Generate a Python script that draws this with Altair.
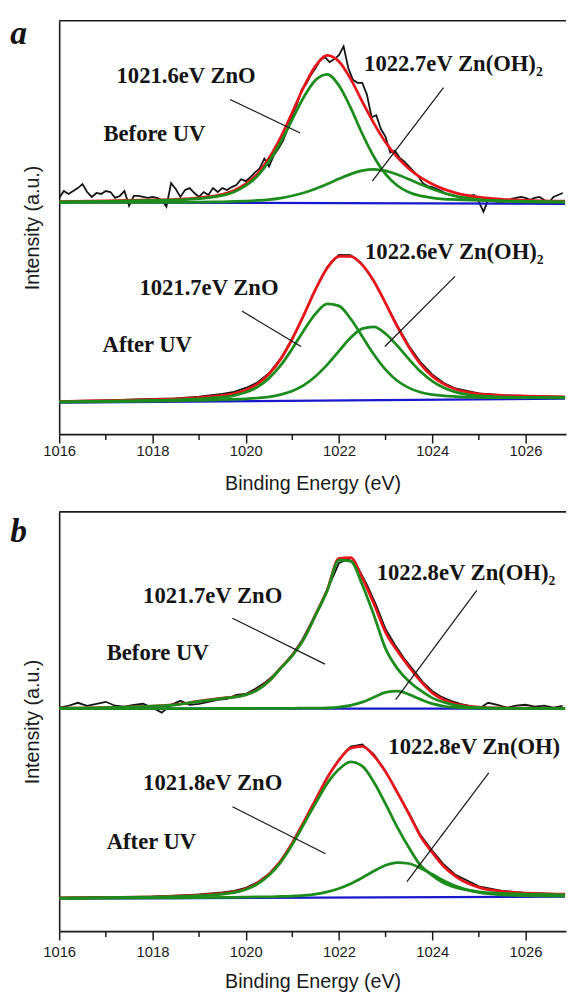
import altair as alt
import pandas as pd

# ---------------- data ----------------
# common energy grid for the fitted curves (eV)
GRID_X = [1016.0, 1017.0, 1018.0, 1018.5, 1019.0, 1019.5, 1019.75, 1020.0, 1020.25, 1020.5,
          1020.75, 1021.0, 1021.25, 1021.5, 1021.75, 1022.0, 1022.25, 1022.5, 1022.75, 1023.0,
          1023.25, 1023.5, 1023.75, 1024.0, 1024.25, 1024.5, 1025.0, 1025.5, 1026.0, 1026.85]
BG_X = [1016.0, 1026.85]

# ---- panel a, Before UV ----
A_BEFORE_ZNO = [236.0, 236.5, 237.4, 238.0, 239.3, 242.5, 246.1, 252.4, 262.1, 277.2,
                296.7, 319.8, 342.8, 359.8, 365.6, 354.2, 331.8, 305.2, 281.8, 264.1,
                252.6, 245.7, 242.0, 240.1, 238.9, 238.3, 237.4, 236.9, 236.5, 236.0]
A_BEFORE_ZNOH = [235.3, 235.4, 235.5, 235.6, 235.8, 236.1, 236.4, 236.8, 237.4, 238.3,
                 239.9, 242.2, 245.3, 249.4, 254.2, 259.4, 264.2, 267.7, 269.0, 267.4,
                 263.8, 259.0, 253.8, 249.0, 245.0, 241.9, 238.3, 236.7, 236.1, 235.7]
A_BEFORE_FIT = [236.3, 236.9, 237.9, 238.6, 240.1, 243.6, 247.5, 254.2, 264.5, 280.5,
                301.6, 327.0, 353.1, 374.2, 384.8, 378.6, 361.0, 337.9, 315.8, 296.5,
                281.4, 269.7, 260.8, 254.1, 248.9, 245.2, 240.7, 238.6, 237.6, 236.7]
A_BEFORE_BG = [235.5, 234.0]
A_BEFORE_RAW_X = [
    1016.0, 1016.1, 1016.2, 1016.3, 1016.4, 1016.5, 1016.6, 1016.7, 1016.8, 1016.9,
    1017.0, 1017.1, 1017.2, 1017.3, 1017.4, 1017.5, 1017.6, 1017.7, 1017.8, 1017.9,
    1018.0, 1018.1, 1018.2, 1018.3, 1018.4, 1018.5, 1018.6, 1018.7, 1018.8, 1018.9,
    1019.0, 1019.1, 1019.2, 1019.3, 1019.4, 1019.5, 1019.6, 1019.7, 1019.8, 1019.9,
    1020.0, 1020.1, 1020.2, 1020.3, 1020.4, 1020.5, 1020.6, 1020.7, 1020.8, 1020.9,
    1021.0, 1021.1, 1021.2, 1021.3, 1021.4, 1021.5, 1021.6, 1021.7, 1021.8, 1021.9,
    1022.0, 1022.1, 1022.2, 1022.3, 1022.4, 1022.5, 1022.6, 1022.7, 1022.8, 1022.9,
    1023.0, 1023.1, 1023.2, 1023.3, 1023.4, 1023.5, 1023.6, 1023.7, 1023.8, 1023.9,
    1024.0, 1024.1, 1024.2, 1024.3, 1024.4, 1024.5, 1024.6, 1024.7, 1024.8, 1024.9,
    1025.0, 1025.1, 1025.2, 1025.3, 1025.4, 1025.5, 1025.6, 1025.7, 1025.8, 1025.9,
    1026.0, 1026.1, 1026.2, 1026.3, 1026.4, 1026.5, 1026.6, 1026.7, 1026.8]
A_BEFORE_RAW = [
    240, 247, 244, 247, 250, 254, 246, 241, 245, 244,
    247, 246, 240, 242, 247, 232, 242, 242, 241, 240,
    241, 240, 238, 231, 255, 249, 241, 248, 250, 245,
    241, 246, 243, 250, 246, 250, 248, 251, 253, 259,
    257, 261, 266, 270, 280, 272, 283, 290, 298, 310,
    324, 335, 350, 356, 365, 372, 380, 383, 378, 381,
    385, 394, 372, 360, 357, 357, 345, 322, 324, 310,
    302, 286, 288, 281, 277, 272, 267, 262, 255, 252,
    251, 249, 247, 244, 243, 242, 240, 240, 242, 243,
    236, 226, 238, 237, 236, 236, 237, 239, 240, 241,
    240, 238, 240, 241, 238, 235, 241, 243, 245]

# ---- panel a, After UV ----
A_AFTER_ZNO = [32.7, 33.4, 34.2, 34.8, 35.8, 37.6, 39.2, 42.5, 47.8, 56.9,
               69.8, 86.9, 105.6, 122.5, 132.4, 130.3, 117.2, 99.2, 80.9, 65.5,
               54.2, 47.0, 42.5, 40.1, 38.9, 38.2, 37.4, 37.1, 37.0, 36.9]
A_AFTER_ZNOH = [32.4, 33.0, 33.5, 33.9, 34.4, 35.0, 35.4, 35.9, 36.7, 37.9,
                40.2, 43.9, 49.8, 58.8, 70.6, 84.4, 97.8, 107.2, 109.0, 102.0,
                89.9, 76.2, 63.5, 53.8, 47.0, 42.6, 38.8, 37.7, 37.3, 37.0]
A_AFTER_FIT = [33.1, 34.0, 35.0, 35.8, 37.1, 39.3, 41.2, 44.9, 50.9, 61.1,
               76.2, 96.9, 121.5, 147.3, 168.9, 180.5, 180.7, 172.0, 155.4, 132.9,
               109.4, 88.4, 71.1, 58.9, 50.8, 45.6, 40.9, 39.3, 38.6, 37.9]
A_AFTER_RAW = [33.6, 34.3, 35.8, 36.2, 38.1, 40.8, 43.0, 46.9, 52.4, 61.9,
               76.7, 96.9, 121.0, 147.3, 169.7, 182.0, 181.9, 172.5, 155.4, 133.4,
               110.4, 89.9, 73.1, 60.7, 52.0, 46.4, 41.4, 39.6, 38.8, 37.9]
A_AFTER_BG = [32.0, 36.0]

# ---- panel b, Before UV ----
B_BEFORE_ZNO = [226.5, 227.0, 228.5, 230.0, 233.5, 236.5, 237.8, 240.0, 245.0, 254.0,
                267.0, 280.0, 297.0, 321.0, 346.0, 377.0, 376.0, 352.0, 321.0, 287.0,
                267.0, 254.0, 244.5, 237.0, 232.5, 229.5, 227.2, 226.5, 226.3, 226.1]
B_BEFORE_ZNOH = [226.1, 226.1, 226.1, 226.1, 226.1, 226.2, 226.2, 226.2, 226.3, 226.3,
                 226.4, 226.4, 226.5, 226.6, 226.9, 227.7, 229.4, 232.7, 237.6, 242.5,
                 243.8, 240.6, 235.5, 231.1, 228.5, 227.3, 226.5, 226.3, 226.2, 226.1]
B_BEFORE_FIT = [226.6, 227.1, 228.6, 230.1, 233.6, 236.7, 238.0, 240.2, 245.3, 254.3,
                267.4, 280.4, 297.5, 321.6, 346.9, 378.7, 379.4, 358.7, 332.6, 303.5,
                284.8, 268.6, 254.0, 242.1, 235.0, 230.8, 227.7, 226.8, 226.5, 226.2]
B_BEFORE_BG = [226.0, 226.0]
B_BEFORE_RAW_X = [
    1016.0, 1016.2, 1016.4, 1016.6, 1016.8, 1017.0, 1017.2, 1017.4, 1017.6, 1017.8,
    1018.0, 1018.2, 1018.4, 1018.6, 1018.8, 1019.0, 1019.2, 1019.4, 1019.6, 1019.8,
    1020.0, 1020.2, 1020.4, 1020.6, 1020.8, 1021.0, 1021.2, 1021.4, 1021.6, 1021.8,
    1022.0, 1022.2, 1022.4, 1022.6, 1022.8, 1023.0, 1023.2, 1023.4, 1023.6, 1023.8,
    1024.0, 1024.2, 1024.4, 1024.6, 1024.8, 1025.0, 1025.2, 1025.4, 1025.6, 1025.8,
    1026.0, 1026.2, 1026.4, 1026.6, 1026.8]
B_BEFORE_RAW = [
    227, 229, 232, 229, 231, 233, 229, 228, 230, 231,
    227, 222, 230, 234, 230, 231, 233, 235, 236, 240,
    241, 246, 252, 260, 270, 281, 295, 313, 332, 352,
    374, 378, 370, 352, 331, 307, 291, 277, 265, 253,
    244, 238, 234, 231, 229, 226, 232, 230, 227, 229,
    230, 228, 229, 227, 229]

# ---- panel b, After UV ----
B_AFTER_ZNO = [33.5, 34.0, 34.6, 35.1, 36.0, 37.7, 39.2, 42.3, 47.8, 56.8,
               69.9, 87.9, 109.0, 130.0, 150.1, 164.4, 171.9, 167.6, 151.3, 129.2,
               105.7, 84.9, 66.8, 56.7, 48.9, 44.4, 39.9, 38.4, 37.5, 36.9]
B_AFTER_ZNOH = [33.2, 33.4, 33.7, 33.9, 34.1, 34.3, 34.3, 34.5, 34.7, 34.8,
                35.2, 35.6, 36.3, 37.6, 39.9, 43.3, 48.2, 54.3, 61.0, 66.9,
                69.7, 68.7, 64.0, 57.8, 51.3, 45.9, 39.3, 36.8, 36.0, 35.6]
B_AFTER_FIT = [33.7, 34.2, 34.9, 35.5, 36.5, 38.3, 39.8, 43.0, 48.7, 57.8,
               71.2, 89.6, 111.3, 133.6, 155.9, 173.6, 185.9, 187.7, 178.0, 161.8,
               141.0, 119.2, 96.4, 80.0, 65.7, 55.7, 44.5, 40.4, 38.6, 37.5]
B_AFTER_RAW = [34.0, 34.7, 35.1, 36.1, 37.3, 39.3, 41.0, 44.0, 49.5, 58.3,
               71.5, 89.8, 111.3, 133.6, 156.2, 174.4, 187.4, 189.7, 179.5, 162.6,
               141.5, 120.0, 97.6, 81.8, 67.7, 57.2, 45.5, 41.0, 38.9, 37.7]
B_AFTER_BG = [33.0, 35.0]

# ---- annotations ----
A_TEXT = ["1021.6eV ZnO", "1022.7eV Zn(OH)\u2082", "Before UV",
          "1021.7eV ZnO", "1022.6eV Zn(OH)\u2082", "After UV"]
A_TEXT_X = [1017.23, 1022.54, 1016.95, 1017.72, 1022.56, 1016.93]
A_TEXT_Y = [356.3, 369.0, 298.0, 141.3, 178.0, 83.0]
A_LEAD_X1 = [1019.665, 1024.242, 1019.919, 1024.489]
A_LEAD_Y1 = [340.0, 352.0, 125.0, 160.3]
A_LEAD_X2 = [1021.169, 1022.716, 1021.184, 1022.985]
A_LEAD_Y2 = [306.0, 257.0, 89.0, 89.0]

B_TEXT = ["1021.7eV ZnO", "1022.8eV Zn(OH)\u2082", "Before UV",
          "1021.8eV ZnO", "1022.8eV Zn(OH)\u2082", "After UV"]
B_TEXT_X = [1017.80, 1022.81, 1017.02, 1017.80, 1023.06, 1017.02]
B_TEXT_Y = [333.0, 357.0, 275.0, 143.0, 179.7, 83.0]
B_LEAD_X1 = [1019.716, 1024.956, 1019.716, 1025.213]
B_LEAD_Y1 = [318.0, 346.3, 126.3, 160.7]
B_LEAD_X2 = [1021.699, 1023.217, 1021.713, 1023.459]
B_LEAD_Y2 = [271.3, 235.3, 78.7, 50.3]

PANEL_LETTERS = ["a", "b"]
LETTER_X = 1014.95
LETTER_Y = [396.0, 395.0]

MAJOR_TICKS = [1016, 1018, 1020, 1022, 1024, 1026]
MINOR_TICKS = [1017, 1019, 1021, 1023, 1025]

# ---------------- styling ----------------
W = 515
XMAX = 1026.87
SANS = "Liberation Sans"
SERIF = "Liberation Serif"
AX = "#1a1a1a"
BLACK = "#141414"
RED = "#e8161b"
GREEN = "#1c8c1c"
BLUE = "#1818cc"


def make_panel(idx, H, ymax, label_pad, xtitle_pad, before, after, raw_b_x, texts, tx, ty,
               lx1, ly1, lx2, ly2, edge_limit):
    xs = alt.Scale(domain=[1016, XMAX], nice=False, zero=False)
    ys = alt.Scale(domain=[0, ymax], nice=False, zero=False)
    xaxis = alt.Axis(values=MAJOR_TICKS, format="d", grid=False, labelFlush=False,
                     tickSize=9, tickWidth=1.5, tickColor=AX,
                     domainColor=AX, domainWidth=1.6,
                     labelFont=SANS, labelFontSize=15, labelColor=AX, labelPadding=label_pad,
                     title="Binding Energy (eV)", titleFont=SANS, titleFontSize=20,
                     titleFontWeight="normal", titleColor=AX, titlePadding=xtitle_pad)
    yaxis = alt.Axis(labels=False, ticks=False, grid=False,
                     domainColor=AX, domainWidth=1.6,
                     title="Intensity (a.u.)", titleFont=SANS, titleFontSize=20,
                     titleFontWeight="normal", titleColor=AX, titlePadding=17)
    X = alt.X("x:Q", scale=xs, axis=xaxis)
    Y = alt.Y("y:Q", scale=ys, axis=yaxis)

    layers = []
    zb, zhb, fb, bgb, rawb = before
    za, zha, fa, bga, rawa = after
    # raw spectra (black)
    raw_df = pd.concat([
        pd.DataFrame({"x": raw_b_x, "y": rawb, "c": "before"}),
        pd.DataFrame({"x": GRID_X, "y": rawa, "c": "after"}),
    ])
    layers.append(alt.Chart(raw_df).mark_line(color=BLACK, strokeWidth=1.8, clip=True)
                  .encode(x=X, y=Y, detail="c:N"))
    # background (blue)
    bg_df = pd.concat([
        pd.DataFrame({"x": BG_X, "y": bgb, "c": "before"}),
        pd.DataFrame({"x": BG_X, "y": bga, "c": "after"}),
    ])
    layers.append(alt.Chart(bg_df).mark_line(color=BLUE, strokeWidth=2.2, clip=True)
                  .encode(x=X, y=Y, detail="c:N"))
    # envelope (red)
    fit_df = pd.concat([
        pd.DataFrame({"x": GRID_X, "y": fb, "c": "before"}),
        pd.DataFrame({"x": GRID_X, "y": fa, "c": "after"}),
    ])
    layers.append(alt.Chart(fit_df).mark_line(color=RED, strokeWidth=2.8, interpolate="monotone", clip=True)
                  .encode(x=X, y=Y, detail="c:N"))
    # components (green)
    comp_df = pd.concat([
        pd.DataFrame({"x": GRID_X, "y": zb, "c": "b1"}),
        pd.DataFrame({"x": GRID_X, "y": zhb, "c": "b2"}),
        pd.DataFrame({"x": GRID_X, "y": za, "c": "a1"}),
        pd.DataFrame({"x": GRID_X, "y": zha, "c": "a2"}),
    ])
    layers.append(alt.Chart(comp_df).mark_line(color=GREEN, strokeWidth=2.8, interpolate="monotone", clip=True)
                  .encode(x=X, y=Y, detail="c:N"))
    # leader lines
    lead_df = pd.DataFrame({"x": lx1, "y": ly1, "x2": lx2, "y2": ly2})
    layers.append(alt.Chart(lead_df).mark_rule(color=BLACK, strokeWidth=1.2)
                  .encode(x=X, y=Y, x2="x2:Q", y2="y2:Q"))
    # annotation texts
    for i, (t, x, y) in enumerate(zip(texts, tx, ty)):
        kw = dict(align="left", baseline="alphabetic", font=SERIF, fontWeight="bold",
                  fontSize=23, color=BLACK)
        if edge_limit is not None and i == 4:
            kw.update(limit=edge_limit, ellipsis="\u200b")
        tdf = pd.DataFrame({"x": [x], "y": [y], "t": [t]})
        layers.append(alt.Chart(tdf).mark_text(**kw).encode(x=X, y=Y, text="t:N"))
    # panel letter
    letter_df = pd.DataFrame({"x": [LETTER_X], "y": [LETTER_Y[idx]], "t": [PANEL_LETTERS[idx]]})
    layers.append(alt.Chart(letter_df).mark_text(align="left", baseline="alphabetic", font=SERIF,
                                                 fontWeight="bold", fontStyle="italic", fontSize=34,
                                                 color=BLACK)
                  .encode(x=X, y=Y, text="t:N"))
    # minor ticks
    minor_df = pd.DataFrame({"x": MINOR_TICKS})
    layers.append(alt.Chart(minor_df).mark_rule(color=AX, strokeWidth=1.5)
                  .encode(x=X, y=alt.value(H), y2=alt.value(H + 6)))
    # top frame line
    top_df = pd.DataFrame({"x": [0]})
    layers.append(alt.Chart(top_df).mark_rule(color=AX, strokeWidth=1.6)
                  .encode(x=alt.value(0), x2=alt.value(W), y=alt.value(0)))
    return alt.layer(*layers).properties(width=W, height=H)


panel_a = make_panel(0, 420, 420, 1, 15,
                     (A_BEFORE_ZNO, A_BEFORE_ZNOH, A_BEFORE_FIT, A_BEFORE_BG, A_BEFORE_RAW),
                     (A_AFTER_ZNO, A_AFTER_ZNOH, A_AFTER_FIT, A_AFTER_BG, A_AFTER_RAW),
                     A_BEFORE_RAW_X, A_TEXT, A_TEXT_X, A_TEXT_Y,
                     A_LEAD_X1, A_LEAD_Y1, A_LEAD_X2, A_LEAD_Y2, None)
panel_b = make_panel(1, 426, 426, 5, 12,
                     (B_BEFORE_ZNO, B_BEFORE_ZNOH, B_BEFORE_FIT, B_BEFORE_BG, B_BEFORE_RAW),
                     (B_AFTER_ZNO, B_AFTER_ZNOH, B_AFTER_FIT, B_AFTER_BG, B_AFTER_RAW),
                     B_BEFORE_RAW_X, B_TEXT, B_TEXT_X, B_TEXT_Y,
                     B_LEAD_X1, B_LEAD_Y1, B_LEAD_X2, B_LEAD_Y2, 178)

chart = (alt.vconcat(panel_a, panel_b, spacing=18)
         .properties(padding={"left": 2, "top": 2, "right": 0, "bottom": 0}, background="white")
         .configure_view(stroke=None))

chart.save("out.html", embed_options={"renderer": "svg", "actions": False})
